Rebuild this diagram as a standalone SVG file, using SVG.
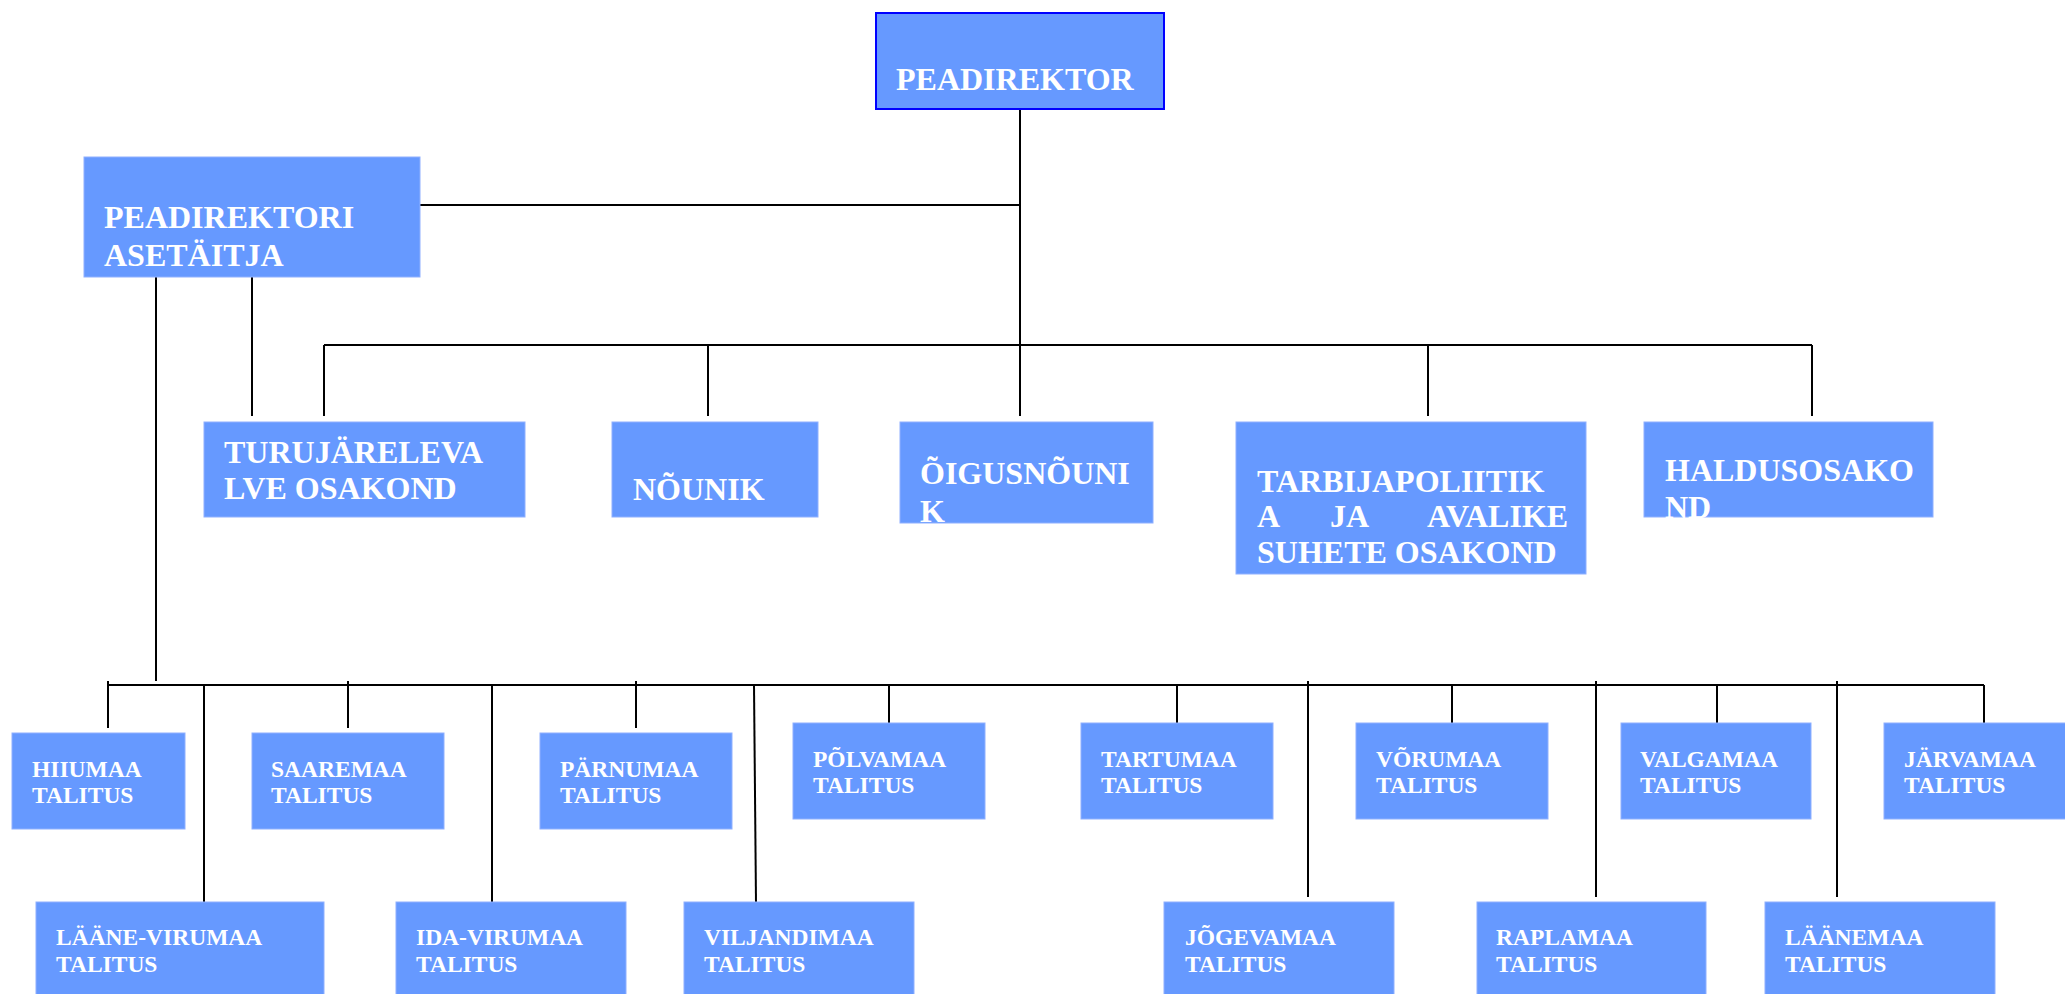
<svg xmlns="http://www.w3.org/2000/svg" width="2065" height="994" viewBox="0 0 2065 994">
<style>
.box{fill:#6699ff;stroke:#8fb0ff;stroke-width:1}
.top{fill:#6699ff;stroke:#0000ff;stroke-width:2}
.t{font-family:"Liberation Serif","Times New Roman",serif;font-weight:bold;fill:#ffffff;font-size:32px}
.s{font-family:"Liberation Serif","Times New Roman",serif;font-weight:bold;fill:#ffffff;font-size:23.5px}
.c line,.c polyline{stroke:#000;stroke-width:2;fill:none}
</style>
<rect width="2065" height="994" fill="#ffffff"/>
<g class="c" id="connectors">
<line x1="1020" y1="109" x2="1020" y2="416"/>
<line x1="420" y1="205" x2="1020" y2="205"/>
<line x1="324" y1="345" x2="1812" y2="345"/>
<line x1="324" y1="345" x2="324" y2="416"/>
<line x1="708" y1="345" x2="708" y2="416"/>
<line x1="1428" y1="345" x2="1428" y2="416"/>
<line x1="1812" y1="345" x2="1812" y2="416"/>
<line x1="252" y1="277" x2="252" y2="416"/>
<line x1="156" y1="277" x2="156" y2="681"/>
<line x1="108" y1="685" x2="1984" y2="685"/>
<line x1="108" y1="681" x2="108" y2="728"/>
<line x1="348" y1="681" x2="348" y2="728"/>
<line x1="636" y1="681" x2="636" y2="728"/>
<line x1="204" y1="685" x2="204" y2="902"/>
<line x1="492" y1="685" x2="492" y2="902"/>
<line x1="754" y1="685" x2="756" y2="902"/>
<line x1="889" y1="685" x2="889" y2="723"/>
<line x1="1177" y1="685" x2="1177" y2="723"/>
<line x1="1452" y1="685" x2="1452" y2="723"/>
<line x1="1717" y1="685" x2="1717" y2="723"/>
<line x1="1984" y1="685" x2="1984" y2="723"/>
<line x1="1308" y1="681" x2="1308" y2="897"/>
<line x1="1596" y1="681" x2="1596" y2="897"/>
<line x1="1837" y1="681" x2="1837" y2="897"/>
</g>
<g id="peadirektor"><rect class="top" x="876" y="13" width="288" height="96"/><text class="t" x="896" y="90">PEADIREKTOR</text></g>
<g id="asetaitja"><rect class="box" x="84" y="157" width="336" height="120"/><text class="t" x="104" y="228">PEADIREKTORI</text><text class="t" x="104" y="266">ASETÄITJA</text></g>
<g id="turujarelevalve"><rect class="box" x="204" y="422" width="321" height="95"/><text class="t" x="224" y="463">TURUJÄRELEVA</text><text class="t" x="224" y="499">LVE OSAKOND</text></g>
<g id="nounik"><rect class="box" x="612" y="422" width="206" height="95"/><text class="t" x="633" y="500">NÕUNIK</text></g>
<g id="oigusnounik"><rect class="box" x="900" y="422" width="253" height="101"/><text class="t" x="920" y="484">ÕIGUSNÕUNI</text><text class="t" x="920" y="522">K</text></g>
<g id="tarbijapoliitika"><rect class="box" x="1236" y="422" width="350" height="152"/><text class="t" x="1257" y="492">TARBIJAPOLIITIK</text><text class="t" y="527"><tspan x="1257">A</tspan><tspan x="1330">JA</tspan><tspan x="1427">AVALIKE</tspan></text><text class="t" x="1257" y="563">SUHETE OSAKOND</text></g>
<g id="haldusosakond"><rect class="box" x="1644" y="422" width="289" height="95"/><text class="t" x="1665" y="481">HALDUSOSAKO</text><text class="t" x="1665" y="518">ND</text></g>
<g id="hiiumaa"><rect class="box" x="12" y="733" width="173" height="96"/><text class="s" x="32" y="777">HIIUMAA</text><text class="s" x="32" y="803">TALITUS</text></g>
<g id="saaremaa"><rect class="box" x="252" y="733" width="192" height="96"/><text class="s" x="271" y="777">SAAREMAA</text><text class="s" x="271" y="803">TALITUS</text></g>
<g id="parnumaa"><rect class="box" x="540" y="733" width="192" height="96"/><text class="s" x="560" y="777">PÄRNUMAA</text><text class="s" x="560" y="803">TALITUS</text></g>
<g id="polvamaa"><rect class="box" x="793" y="723" width="192" height="96"/><text class="s" x="813" y="767">PÕLVAMAA</text><text class="s" x="813" y="793">TALITUS</text></g>
<g id="tartumaa"><rect class="box" x="1081" y="723" width="192" height="96"/><text class="s" x="1101" y="767">TARTUMAA</text><text class="s" x="1101" y="793">TALITUS</text></g>
<g id="vorumaa"><rect class="box" x="1356" y="723" width="192" height="96"/><text class="s" x="1376" y="767">VÕRUMAA</text><text class="s" x="1376" y="793">TALITUS</text></g>
<g id="valgamaa"><rect class="box" x="1621" y="723" width="190" height="96"/><text class="s" x="1640" y="767">VALGAMAA</text><text class="s" x="1640" y="793">TALITUS</text></g>
<g id="jarvamaa"><rect class="box" x="1884" y="723" width="182" height="96"/><text class="s" x="1904" y="767">JÄRVAMAA</text><text class="s" x="1904" y="793">TALITUS</text></g>
<g id="laane-virumaa"><rect class="box" x="36" y="902" width="288" height="93"/><text class="s" x="56" y="945">LÄÄNE-VIRUMAA</text><text class="s" x="56" y="972">TALITUS</text></g>
<g id="ida-virumaa"><rect class="box" x="396" y="902" width="230" height="93"/><text class="s" x="416" y="945">IDA-VIRUMAA</text><text class="s" x="416" y="972">TALITUS</text></g>
<g id="viljandimaa"><rect class="box" x="684" y="902" width="230" height="93"/><text class="s" x="704" y="945">VILJANDIMAA</text><text class="s" x="704" y="972">TALITUS</text></g>
<g id="jogevamaa"><rect class="box" x="1164" y="902" width="230" height="93"/><text class="s" x="1185" y="945">JÕGEVAMAA</text><text class="s" x="1185" y="972">TALITUS</text></g>
<g id="raplamaa"><rect class="box" x="1477" y="902" width="229" height="93"/><text class="s" x="1496" y="945">RAPLAMAA</text><text class="s" x="1496" y="972">TALITUS</text></g>
<g id="laanemaa"><rect class="box" x="1765" y="902" width="230" height="93"/><text class="s" x="1785" y="945">LÄÄNEMAA</text><text class="s" x="1785" y="972">TALITUS</text></g>
</svg>
